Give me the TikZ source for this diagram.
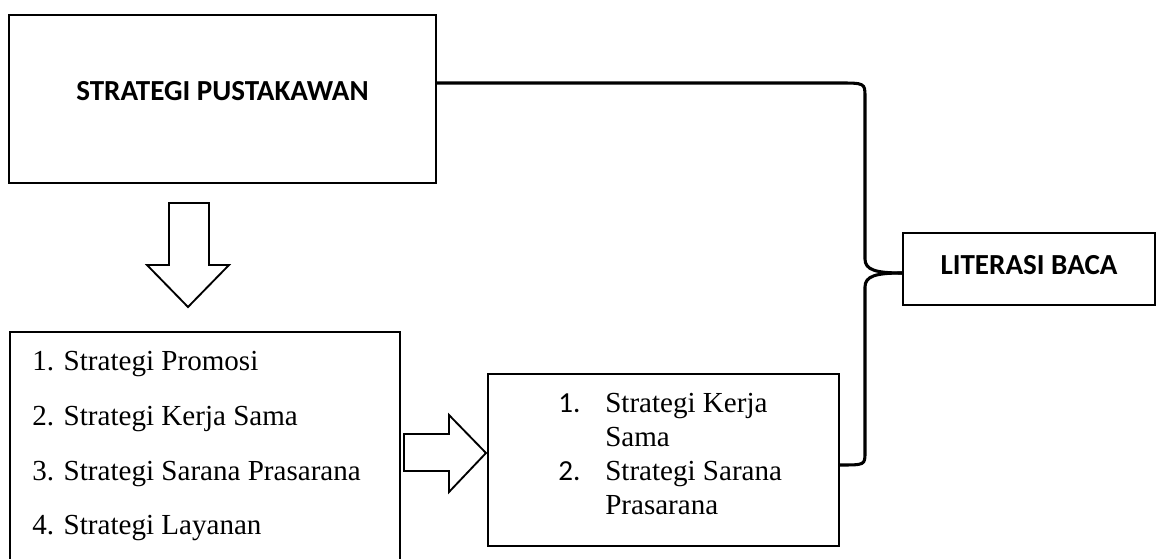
\documentclass[tikz,border=0pt]{standalone}
\usepackage{fontspec}
\setmainfont{Liberation Serif}
\newfontfamily\calibri{Carlito}
\begin{document}
\begin{tikzpicture}[x=0.75pt, y=-0.75pt,
    box/.style={draw, line width=1.5pt, inner sep=0pt},
    head/.style={font=\calibri\bfseries\fontsize{21.8}{26}\selectfont},
    item/.style={anchor=base west, inner sep=0pt, font=\fontsize{21.8}{26}\selectfont},
    num/.style={item, font=\calibri\fontsize{21.8}{26}\selectfont},
    hollow/.style={draw, line width=1.4pt, fill=white, line join=miter},
    link/.style={line width=2.3pt, line join=round}]
    \useasboundingbox (0,0) rectangle (1157,559);

    \node[box, head, minimum width=320.25pt, minimum height=126pt, text depth=12pt] (pust) at (222.5,99) {STRATEGI PUSTAKAWAN};
    \node[box, head, minimum width=189pt, minimum height=54pt, text depth=6.75pt] (lit) at (1029,269) {LITERASI BACA};
    \node[box, minimum width=292.5pt, minimum height=195pt] (lst) at (205,462) {};
    \node[box, minimum width=263.25pt, minimum height=129pt] (mid) at (663.5,460) {};

    % daftar strategi
    \node[item] (s1) at (32,371) {1. Strategi Promosi};
    \node[item] (s2) at (32,425.5) {2. Strategi Kerja Sama};
    \node[item] (s3) at (32,480) {3. Strategi Sarana Prasarana};
    \node[item] (s4) at (32,534.5) {4. Strategi Layanan};

    \node[num] (n1) at (558,413) {1.};
    \node[item] (k1) at (605,413) {Strategi Kerja};
    \node[item] (k1b) at (605,447) {Sama};
    \node[num] (n2) at (558,480) {2.};
    \node[item] (k2) at (605,480) {Strategi Sarana};
    \node[item] (k2b) at (605,514) {Prasarana};

    % panah blok
    \draw[hollow] (169,203) -- (209,203) -- (209,265) -- (229,265) -- (188,307) -- (147,265) -- (169,265) -- cycle;
    \draw[hollow] (404,434) -- (449,434) -- (449,415) -- (486,453) -- (449,492) -- (449,471) -- (404,471) -- cycle;

    % kurung kurawal
    \coordinate (b0) at ([yshift=12pt]pust.east);
    \coordinate (bt) at ([yshift=-3pt]lit.west);
    \coordinate (b1) at ([yshift=-3.75pt]mid.east);
    \draw[link] (b0) -- (838,83) .. controls (865,83) .. (865,97) -- (865,259)
        .. controls (865,270) and (876,273) .. (bt);
    \draw[link] (bt) .. controls (876,273) and (865,276) .. (865,287) -- (865,452)
        .. controls (865,465) .. (b1);
\end{tikzpicture}
\end{document}
